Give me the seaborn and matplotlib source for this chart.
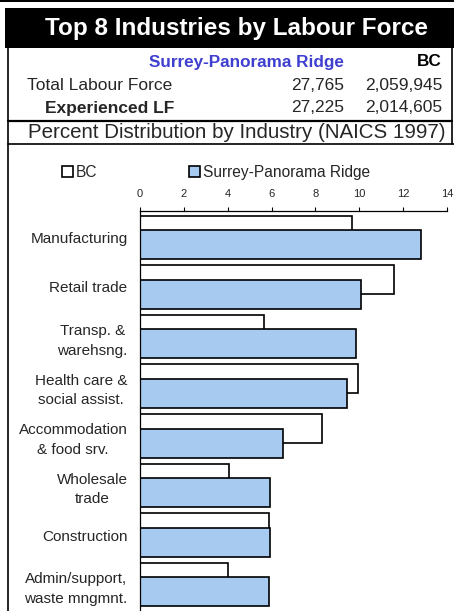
import pandas as pd
import matplotlib.pyplot as plt
import seaborn as sns
from matplotlib.patches import Rectangle
from matplotlib.lines import Line2D

# Data
industries = ["Manufacturing", "Retail trade", "Transp. &\nwarehsng.",
              "Health care &\nsocial assist.", "Accommodation\n& food srv.",
              "Wholesale\ntrade", "Construction", "Admin/support,\nwaste mngmnt."]
bc_pct = [9.66, 11.58, 5.66, 9.94, 8.29, 4.08, 5.89, 4.00]
surrey_pct = [12.80, 10.06, 9.83, 9.43, 6.50, 5.95, 5.93, 5.87]
series_names = ["BC", "Surrey-Panorama Ridge"]
series_colors = ["white", "#A6CAF0"]

row_labels = ["Total Labour Force", "Experienced LF"]
surrey_counts = ["27,765", "27,225"]
bc_counts = ["2,059,945", "2,014,605"]

df = pd.DataFrame({
    "industry": industries * 2,
    "pct": bc_pct + surrey_pct,
    "area": [series_names[0]] * len(industries) + [series_names[1]] * len(industries),
})

sns.set_style("white")
plt.rcParams['font.family'] = ['Liberation Sans', 'DejaVu Sans']

W, H = 454, 611
fig = plt.figure(figsize=(W / 100, H / 100), dpi=100)

def fx(px):
    return px / W

def fy(py):
    return 1 - py / H

# Header decorations
fig.add_artist(Rectangle((0, fy(2)), 1, 2 / H, transform=fig.transFigure, color="black", lw=0))
fig.add_artist(Rectangle((fx(5), fy(48)), 1 - fx(5), 40 / H, transform=fig.transFigure, color="black", lw=0))
fig.text(fx(237), fy(28), "Top 8 Industries by Labour Force", color="white",
         fontsize=17.5, fontweight="bold", ha="center", va="center")

border_kw = dict(transform=fig.transFigure, color="black", lw=1.2)
fig.add_artist(Line2D([fx(7.5), fx(7.5)], [fy(48), fy(H)], **border_kw))
fig.add_artist(Line2D([fx(451.5), fx(451.5)], [fy(48), fy(144)], **border_kw))
fig.add_artist(Line2D([fx(7.5), fx(451.5)], [fy(121), fy(121)], transform=fig.transFigure, color="black", lw=1.6))
fig.add_artist(Line2D([fx(7.5), 1], [fy(144), fy(144)], **border_kw))

fig.text(fx(344), fy(62), series_names[1], color="#3F3FD0", fontsize=12.3,
         fontweight="bold", ha="right", va="center")
fig.text(fx(442), fy(62), "BC", color="black", fontsize=12.3,
         fontweight="bold", ha="right", va="center")
row_y = [85, 108]
row_x = [27, 45]
row_w = ["normal", "bold"]
for lab, s, b, y, x, w in zip(row_labels, surrey_counts, bc_counts, row_y, row_x, row_w):
    fig.text(fx(x), fy(y), lab, fontsize=12.5, fontweight=w, ha="left", va="center")
    fig.text(fx(344), fy(y), s, fontsize=12.5, ha="right", va="center")
    fig.text(fx(442), fy(y), b, fontsize=12.5, ha="right", va="center")

fig.text(fx(236.5), fy(133), "Percent Distribution by Industry (NAICS 1997)",
         fontsize=14.8, ha="center", va="center")

# Chart
ax = fig.add_axes([fx(140), 0, fx(447) - fx(140), fy(211)])
sns.barplot(data=df, x="pct", y="industry", hue="area", hue_order=series_names,
            palette=series_colors, saturation=1, width=0.585, gap=-1,
            edgecolor="black", linewidth=1.2, ax=ax)

ax.set_xlim(0, 14)
ax.set_xticks(range(0, 15, 2))
ax.set_ylim(7.53, -0.53)
ax.set_xlabel("")
ax.set_ylabel("")
ax.xaxis.tick_top()
ax.tick_params(axis="x", top=True, bottom=False, labeltop=True, labelbottom=False,
               direction="out", length=3, width=0.8, pad=6, labelsize=8, color="black")
ax.tick_params(axis="y", left=False, length=0, pad=9, labelsize=11)
for t in ax.get_yticklabels():
    t.set_multialignment("center")
    t.set_linespacing(1.5)
for side in ["right", "bottom"]:
    ax.spines[side].set_visible(False)
for side in ["top", "left"]:
    ax.spines[side].set_color("black")
    ax.spines[side].set_linewidth(0.9)

sns.move_legend(ax, loc="center left", bbox_to_anchor=(fx(62), fy(172)),
                bbox_transform=fig.transFigure, ncol=2, frameon=False, title=None,
                fontsize=11.2, handlelength=0.7, handleheight=0.7,
                handletextpad=0.2, columnspacing=5.9, borderpad=0, borderaxespad=0)

fig.savefig("out.png", dpi=100)
